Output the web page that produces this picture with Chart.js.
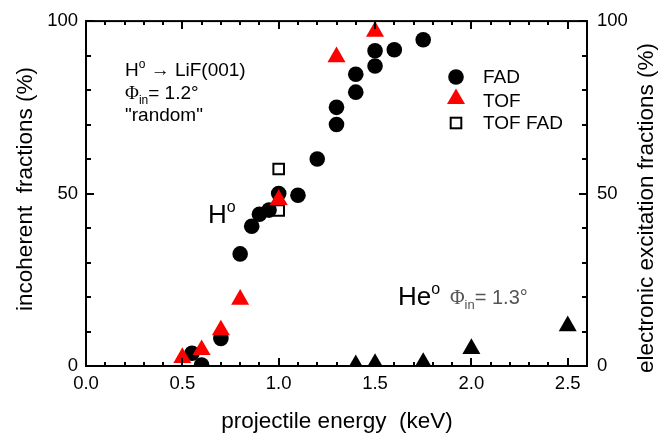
<!DOCTYPE html>
<html>
<head>
<meta charset="utf-8">
<script src="https://cdn.jsdelivr.net/npm/chart.js@4.4.0/dist/chart.umd.min.js"></script>
<style>
  body { margin: 0; background: #fff; }
</style>
</head>
<body>
<canvas id="chart" width="658" height="437"></canvas>
<script>
// H° on LiF(001), incoherent fractions (%) vs projectile energy (keV)
var fadEnergy = [0.55, 0.6, 0.7, 0.8, 0.86, 0.9, 0.95, 1.0, 1.1, 1.2, 1.3, 1.3, 1.4, 1.4, 1.5, 1.5, 1.6, 1.75];
var fadFrac = [3.7, 0.3, 8, 32.5, 40.5, 44, 45.2, 50, 49.5, 60, 75, 70, 84.6, 79.4, 91.4, 87, 91.7, 94.6];

var tofEnergy = [0.5, 0.6, 0.7, 0.8, 1.0, 1.3, 1.5];
var tofFrac = [2.4, 4.7, 10.4, 19.3, 48.2, 89.6, 97];

var tofFadEnergy = [1.0, 1.0];
var tofFadFrac = [57.1, 45.1];

// He° electronic excitation fractions (right axis)
var heEnergy = [1.4, 1.5, 1.75, 2.0, 2.5];
var heExc = [0.3, 0.7, 1.0, 5, 11.6];

var xTickValues = [0, 0.5, 1.0, 1.5, 2.0, 2.5];
var yTickValues = [0, 50, 100];

var FONT = '"Liberation Sans", Arial, sans-serif';
var SERIF = '"Liberation Serif", "Times New Roman", serif';

function toPoints(xs, ys) {
    return xs.map(function (x, i) { return { x: x, y: ys[i] }; });
}

// draws a string made of parts with different sizes / offsets (super & subscripts)
function drawRich(ctx, parts, x, y) {
    parts.forEach(function (p) {
        ctx.font = p.size + 'px ' + (p.family || FONT);
        ctx.fillStyle = p.color || '#000';
        ctx.fillText(p.t, x, y + (p.dy || 0));
        x += ctx.measureText(p.t).width;
    });
}

// frame with inward ticks on all four sides
var framePlugin = {
    id: 'frame',
    afterDatasetsDraw: function (chart) {
        var ctx = chart.ctx, a = chart.chartArea;
        var sx = chart.scales.x, sy = chart.scales.y;
        ctx.save();
        ctx.strokeStyle = '#000';
        ctx.lineWidth = 2;
        ctx.strokeRect(a.left, a.top, a.right - a.left, a.bottom - a.top);
        ctx.beginPath();
        for (var i = 0; i <= 26; i++) {
            var px = Math.round(sx.getPixelForValue(i / 10));
            var len = (i % 5 === 0) ? 8 : 4;
            ctx.moveTo(px, a.bottom); ctx.lineTo(px, a.bottom - len);
            ctx.moveTo(px, a.top); ctx.lineTo(px, a.top + len);
        }
        for (var j = 0; j <= 100; j += 10) {
            var py = Math.round(sy.getPixelForValue(j));
            var l = (j % 50 === 0) ? 8 : 5;
            ctx.moveTo(a.left, py); ctx.lineTo(a.left + l, py);
            ctx.moveTo(a.right, py); ctx.lineTo(a.right - l, py);
        }
        ctx.stroke();
        ctx.restore();
    }
};

// axis titles, legend and text labels
var textPlugin = {
    id: 'texts',
    afterDraw: function (chart) {
        var ctx = chart.ctx;
        ctx.save();
        ctx.fillStyle = '#000';
        ctx.textBaseline = 'alphabetic';

        // axis titles
        ctx.font = '22.5px ' + FONT;
        ctx.textAlign = 'center';
        ctx.fillText('projectile energy  (keV)', 337, 428);
        ctx.save();
        ctx.translate(32, 189);
        ctx.rotate(-Math.PI / 2);
        ctx.fillText('incoherent  fractions (%)', 0, 0);
        ctx.restore();
        ctx.save();
        ctx.translate(653, 208);
        ctx.rotate(-Math.PI / 2);
        ctx.fillText('electronic excitation fractions (%)', 0, 0);
        ctx.restore();

        ctx.textAlign = 'left';
        // top-left annotation
        drawRich(ctx, [{ t: 'H', size: 19 }, { t: 'o', size: 12, dy: -8 }, { t: ' \u2192 LiF(001)', size: 19 }], 125, 76);
        drawRich(ctx, [{ t: '\u03A6', size: 19, family: SERIF }, { t: 'in', size: 12, dy: 5 }, { t: '= 1.2\u00B0', size: 19 }], 125, 99);
        drawRich(ctx, [{ t: '"random"', size: 19 }], 125, 121);

        // H° label
        drawRich(ctx, [{ t: 'H', size: 26 }, { t: 'o', size: 16, dy: -11 }], 208, 223);

        // He° label
        drawRich(ctx, [{ t: 'He', size: 26 }, { t: 'o', size: 16, dy: -11 }], 398, 305);
        drawRich(ctx, [{ t: '\u03A6', size: 20, family: SERIF, color: '#555' },
                       { t: 'in', size: 13, dy: 5, color: '#555' },
                       { t: '= 1.3\u00B0', size: 20, color: '#555' }], 450, 304);

        // legend
        var lx = 456;
        ctx.fillStyle = '#000';
        ctx.beginPath();
        ctx.arc(lx, 77, 7.8, 0, Math.PI * 2);
        ctx.fill();
        ctx.fillStyle = '#ff0000';
        ctx.beginPath();
        ctx.moveTo(lx, 88.5);
        ctx.lineTo(lx + 9, 104);
        ctx.lineTo(lx - 9, 104);
        ctx.closePath();
        ctx.fill();
        ctx.strokeStyle = '#000';
        ctx.lineWidth = 2;
        ctx.strokeRect(lx - 5.3, 123 - 5.3, 10.6, 10.6);

        ctx.fillStyle = '#000';
        ctx.font = '19px ' + FONT;
        ctx.fillText('FAD', 483, 83);
        ctx.fillText('TOF', 483, 107);
        ctx.fillText('TOF FAD', 483, 129);
        ctx.restore();
    }
};

var tickFont = { family: FONT, size: 18.5 };

var chart = new Chart(document.getElementById('chart'), {
    type: 'scatter',
    data: {
        datasets: [
            {
                label: 'TOF',
                data: toPoints(tofEnergy, tofFrac),
                pointStyle: 'triangle',
                pointRadius: 10.4,
                backgroundColor: '#ff0000',
                borderWidth: 0,
                clip: 0
            },
            {
                label: 'FAD',
                data: toPoints(fadEnergy, fadFrac),
                pointStyle: 'circle',
                pointRadius: 7.8,
                backgroundColor: '#000',
                borderWidth: 0,
                clip: 0
            },
            {
                label: 'TOF FAD',
                data: toPoints(tofFadEnergy, tofFadFrac),
                pointStyle: 'rect',
                pointRadius: 7.5,
                backgroundColor: 'rgba(0,0,0,0)',
                borderColor: '#000',
                borderWidth: 2,
                clip: 0
            },
            {
                label: 'He',
                data: toPoints(heEnergy, heExc),
                yAxisID: 'y2',
                pointStyle: 'triangle',
                pointRadius: 10.4,
                backgroundColor: '#000',
                borderWidth: 0,
                clip: 0
            }
        ]
    },
    options: {
        responsive: false,
        animation: false,
        events: [],
        layout: { padding: { top: 16, left: 0, right: 0, bottom: 0 } },
        plugins: {
            legend: { display: false },
            tooltip: { enabled: false }
        },
        scales: {
            x: {
                type: 'linear',
                position: 'bottom',
                min: 0,
                max: 2.6,
                afterBuildTicks: function (s) { s.ticks = xTickValues.map(function (v) { return { value: v }; }); },
                ticks: { font: tickFont, color: '#000', padding: 7, maxRotation: 0, autoSkip: false,
                         callback: function (v) { return v.toFixed(1); } },
                grid: { display: false, drawTicks: false },
                border: { display: false },
                afterFit: function (s) { s.height = 71; }
            },
            y: {
                position: 'left',
                min: 0,
                max: 100,
                afterBuildTicks: function (s) { s.ticks = yTickValues.map(function (v) { return { value: v }; }); },
                ticks: { font: tickFont, color: '#000', padding: 8 },
                grid: { display: false, drawTicks: false },
                border: { display: false },
                afterFit: function (s) { s.width = 86; }
            },
            y2: {
                position: 'right',
                min: 0,
                max: 100,
                afterBuildTicks: function (s) { s.ticks = yTickValues.map(function (v) { return { value: v }; }); },
                ticks: { font: tickFont, color: '#000', padding: 10 },
                grid: { display: false, drawTicks: false },
                border: { display: false },
                afterFit: function (s) { s.width = 71; }
            }
        }
    },
    plugins: [framePlugin, textPlugin]
});
</script>
</body>
</html>
